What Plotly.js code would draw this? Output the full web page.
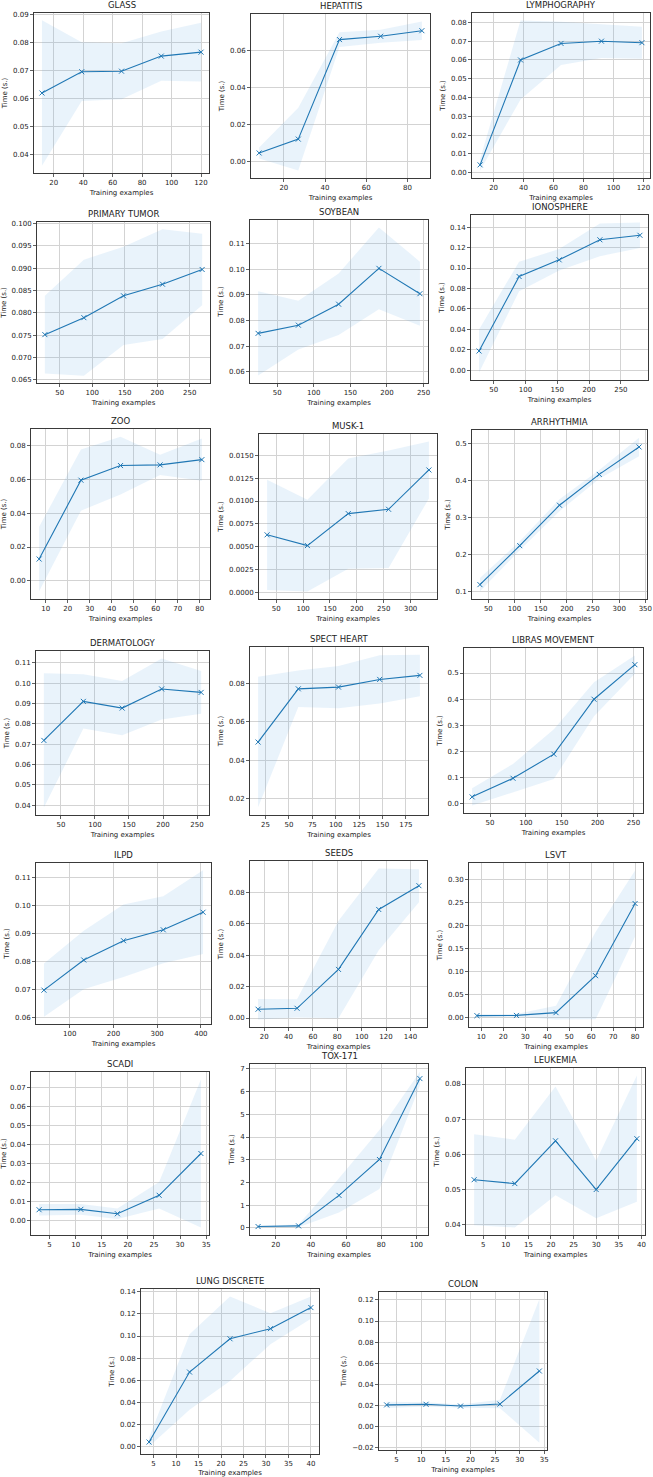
<!DOCTYPE html>
<html>
<head>
<meta charset="utf-8">
<script src="https://cdn.plot.ly/plotly-3.0.1.min.js"></script>
<style>html,body{margin:0;padding:0;background:#fff}#chart{width:653px;height:1477px}</style>
</head>
<body>
<div id="chart"></div>
<script>
// ---- Data (training examples, mean time, std of time) ----
const glassX = [12, 39, 66, 93, 120];
const glassMean = [0.0619, 0.0695, 0.0697, 0.0751, 0.0765];
const glassStd = [0.026, 0.0105, 0.0100, 0.0088, 0.0105];

const hepatitisX = [8, 27, 47, 67, 87];
const hepatitisMean = [0.0044, 0.0119, 0.0657, 0.0675, 0.0705];
const hepatitisStd = [0.003, 0.017, 0.004, 0.0035, 0.005];

const lymphX = [11, 38, 65, 92, 119];
const lymphMean = [0.0042, 0.0600, 0.0688, 0.0700, 0.0692];
const lymphStd = [0.003, 0.021, 0.0115, 0.009, 0.0085];

const tumorX = [27, 87, 148, 208, 269];
const tumorMean = [0.0751, 0.0789, 0.0838, 0.0864, 0.0897];
const tumorStd = [0.0087, 0.013, 0.011, 0.0123, 0.008];

const soybeanX = [24, 79, 134, 189, 245];
const soybeanMean = [0.0750, 0.0782, 0.0864, 0.1004, 0.0905];
const soybeanStd = [0.0165, 0.0095, 0.012, 0.016, 0.0125];

const ionoX = [27, 90, 153, 217, 280];
const ionoMean = [0.0189, 0.0917, 0.1080, 0.1276, 0.1320];
const ionoStd = [0.021, 0.0145, 0.0105, 0.016, 0.0125];

const zooX = [7, 26, 44, 62, 81];
const zooMean = [0.0129, 0.0594, 0.0680, 0.0684, 0.0715];
const zooStd = [0.019, 0.018, 0.017, 0.006, 0.0125];

const muskX = [33, 108, 184, 259, 334];
const muskMean = [0.00632, 0.00515, 0.00863, 0.0091, 0.01338];
const muskStd = [0.006, 0.005, 0.006, 0.0064, 0.0031];

const arrhX = [34, 110, 186, 262, 338];
const arrhMean = [0.119, 0.224, 0.333, 0.416, 0.490];
const arrhStd = [0.018, 0.012, 0.016, 0.012, 0.025];

const dermX = [25, 83, 140, 198, 256];
const dermMean = [0.0718, 0.0910, 0.0877, 0.0971, 0.0954];
const dermStd = [0.033, 0.0133, 0.0133, 0.015, 0.0105];

const spectX = [17, 60, 103, 147, 190];
const spectMean = [0.0494, 0.0771, 0.0780, 0.0820, 0.0841];
const spectStd = [0.034, 0.0095, 0.011, 0.0126, 0.0108];

const librasX = [25, 82, 139, 195, 252];
const librasMean = [0.027, 0.098, 0.190, 0.400, 0.532];
const librasStd = [0.033, 0.055, 0.095, 0.065, 0.035];

const ilpdX = [41, 132, 223, 314, 405];
const ilpdMean = [0.0697, 0.0805, 0.0874, 0.0913, 0.0976];
const ilpdStd = [0.0095, 0.0105, 0.013, 0.012, 0.015];

const seedsX = [15, 47, 81, 114, 147];
const seedsMean = [0.0056, 0.0062, 0.0309, 0.0690, 0.0841];
const seedsStd = [0.0065, 0.0058, 0.031, 0.026, 0.0105];

const lsvtX = [8, 26, 44, 62, 80];
const lsvtMean = [0.0040, 0.0045, 0.0105, 0.091, 0.248];
const lsvtStd = [0.003, 0.003, 0.015, 0.095, 0.072];

const scadiX = [3, 11, 18, 26, 34];
const scadiMean = [0.0059, 0.0061, 0.0038, 0.0135, 0.0355];
const scadiStd = [0.003, 0.0028, 0.0028, 0.007, 0.039];

const toxX = [10, 33, 56, 79, 102];
const toxMean = [0.06, 0.09, 1.43, 3.01, 6.57];
const toxStd = [0.03, 0.06, 0.75, 1.3, 0.3];

const leukX = [3, 12, 21, 30, 39];
const leukMean = [0.0527, 0.0516, 0.0638, 0.0499, 0.0644];
const leukStd = [0.013, 0.0125, 0.0155, 0.0082, 0.018];

const lungX = [4, 13, 22, 31, 40];
const lungMean = [0.0044, 0.0675, 0.0975, 0.1066, 0.1256];
const lungStd = [0.004, 0.034, 0.038, 0.014, 0.01];

const colonX = [3, 11, 18, 26, 34];
const colonMean = [0.0206, 0.0212, 0.0195, 0.0214, 0.0527];
const colonStd = [0.003, 0.002, 0.0015, 0.004, 0.068];

const xLabel = 'Training examples';
const yLabel = 'Time (s.)';

// ---- Panels: data refs + placement (px box: left, right, top, bottom) ----
const panels = [
  {title:'GLASS', x:glassX, m:glassMean, s:glassStd, box:[34,209,13,173], dx:20, dy:0.01, fmt:'.2f'},
  {title:'HEPATITIS', x:hepatitisX, m:hepatitisMean, s:hepatitisStd, box:[251,430,14,178], dx:20, dy:0.02, fmt:'.2f'},
  {title:'LYMPHOGRAPHY', x:lymphX, m:lymphMean, s:lymphStd, box:[472,650,13,178], dx:20, dy:0.01, fmt:'.2f'},
  {title:'PRIMARY TUMOR', x:tumorX, m:tumorMean, s:tumorStd, box:[37,210,222,383], dx:50, dy:0.005, fmt:'.3f'},
  {title:'SOYBEAN', x:soybeanX, m:soybeanMean, s:soybeanStd, box:[250,428,220,383], dx:50, dy:0.01, fmt:'.2f'},
  {title:'IONOSPHERE', x:ionoX, m:ionoMean, s:ionoStd, box:[471,648,215,380], dx:50, dy:0.02, fmt:'.2f'},
  {title:'ZOO', x:zooX, m:zooMean, s:zooStd, box:[31,210,429,599], dx:10, dy:0.02, fmt:'.2f'},
  {title:'MUSK-1', x:muskX, m:muskMean, s:muskStd, box:[259,437,434,599], dx:50, dy:0.0025, fmt:'.4f'},
  {title:'ARRHYTHMIA', x:arrhX, m:arrhMean, s:arrhStd, box:[472,647,430,599], dx:50, dy:0.1, fmt:'.1f'},
  {title:'DERMATOLOGY', x:dermX, m:dermMean, s:dermStd, box:[36,209,651,815], dx:50, dy:0.01, fmt:'.2f'},
  {title:'SPECT HEART', x:spectX, m:spectMean, s:spectStd, box:[250,428,647,815], dx:25, dy:0.02, fmt:'.2f'},
  {title:'LIBRAS MOVEMENT', x:librasX, m:librasMean, s:librasStd, box:[464,643,648,813], dx:50, dy:0.1, fmt:'.1f'},
  {title:'ILPD', x:ilpdX, m:ilpdMean, s:ilpdStd, box:[36,211,863,1024], dx:100, dy:0.01, fmt:'.2f'},
  {title:'SEEDS', x:seedsX, m:seedsMean, s:seedsStd, box:[250,427,861,1027], dx:20, dy:0.02, fmt:'.2f'},
  {title:'LSVT', x:lsvtX, m:lsvtMean, s:lsvtStd, box:[469,643,863,1027], dx:10, dy:0.05, fmt:'.2f'},
  {title:'SCADI', x:scadiX, m:scadiMean, s:scadiStd, box:[31,209,1072,1235], dx:5, dy:0.01, fmt:'.2f'},
  {title:'TOX-171', x:toxX, m:toxMean, s:toxStd, box:[250,428,1064,1235], dx:20, dy:1, fmt:'d'},
  {title:'LEUKEMIA', x:leukX, m:leukMean, s:leukStd, box:[466,645,1068,1235], dx:5, dy:0.01, fmt:'.2f'},
  {title:'LUNG DISCRETE', x:lungX, m:lungMean, s:lungStd, box:[141,319,1289,1454], dx:5, dy:0.02, fmt:'.2f'},
  {title:'COLON', x:colonX, m:colonMean, s:colonStd, box:[379,547,1292,1450], dx:5, dy:0.02, fmt:'.2f'}
];

const W = 653, H = 1477;
const BLUE = '#1f77b4';
const FONT = 'DejaVu Sans, Arial, sans-serif';
const traces = [];
const layout = {
  width: W, height: H,
  margin: {l:0, r:0, t:0, b:0},
  paper_bgcolor: '#ffffff', plot_bgcolor: '#ffffff',
  showlegend: false,
  font: {family: FONT, size: 7, color: '#222'},
  annotations: []
};

panels.forEach((p, i) => {
  const k = i + 1;
  const xa = 'x' + (k === 1 ? '' : k), ya = 'y' + (k === 1 ? '' : k);
  const lower = p.m.map((v, j) => v - p.s[j]);
  const upper = p.m.map((v, j) => v + p.s[j]);
  traces.push({x:p.x, y:lower, xaxis:xa, yaxis:ya, mode:'lines', line:{width:0, color:BLUE}, hoverinfo:'skip'});
  traces.push({x:p.x, y:upper, xaxis:xa, yaxis:ya, mode:'lines', line:{width:0, color:BLUE}, fill:'tonexty', fillcolor:'rgba(100,170,230,0.14)', hoverinfo:'skip'});
  traces.push({x:p.x, y:p.m, xaxis:xa, yaxis:ya, mode:'lines+markers',
    line:{color:BLUE, width:1.1},
    marker:{symbol:'x-thin', size:5, line:{color:BLUE, width:1}, color:BLUE}});

  const xmin = Math.min(...p.x), xmax = Math.max(...p.x);
  const ylo = Math.min(...lower), yhi = Math.max(...upper);
  const px = 0.05 * (xmax - xmin), py = 0.05 * (yhi - ylo);
  const [l, r, t, b] = p.box;
  const axCommon = {
    showline:true, mirror:true, linecolor:'#3a3a3a', linewidth:1,
    showgrid:true, gridcolor:'#d3d3d3', gridwidth:1, zeroline:false,
    ticks:'outside', ticklen:3, tickcolor:'#3a3a3a', tickwidth:0.8,
    tickfont:{family:FONT, size:7, color:'#222'}, automargin:false,
    ticklabeloverflow:'allow'
  };
  layout['xaxis' + (k === 1 ? '' : k)] = Object.assign({}, axCommon, {
    domain:[l / W, r / W], anchor:ya, range:[xmin - px, xmax + px],
    tick0:0, dtick:p.dx,
    title:{text:xLabel, font:{family:FONT, size:7, color:'#222'}, standoff:3}
  });
  layout['yaxis' + (k === 1 ? '' : k)] = Object.assign({}, axCommon, {
    domain:[1 - b / H, 1 - t / H], anchor:xa, range:[ylo - py, yhi + py],
    tick0:0, dtick:p.dy, tickformat:p.fmt,
    title:{text:yLabel, font:{family:FONT, size:7, color:'#222'}, standoff:4}
  });
  layout.annotations.push({
    text:p.title, xref:'paper', yref:'paper', x:(l + r) / 2 / W, y:1 - t / H,
    xanchor:'center', yanchor:'bottom', yshift:1, showarrow:false,
    font:{family:FONT, size:8.5, color:'#222'}
  });
});

Plotly.newPlot('chart', traces, layout, {displayModeBar:false, staticPlot:true});
</script>
</body>
</html>
